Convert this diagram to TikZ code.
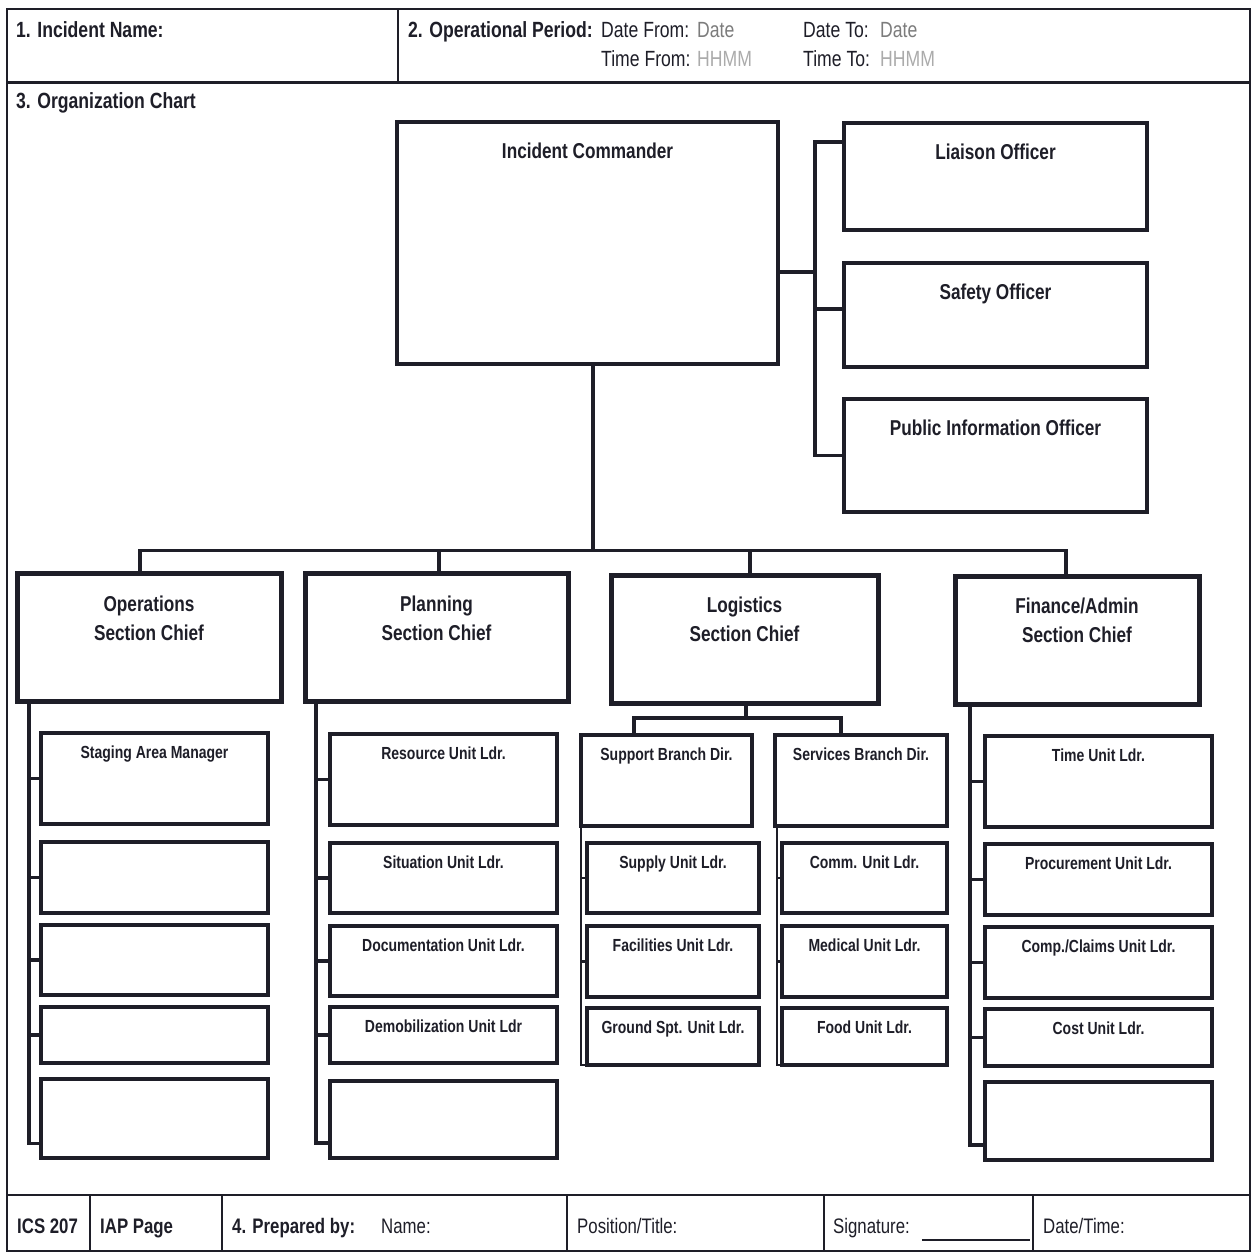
\documentclass[tikz,border=0pt]{standalone}
\usepackage{fontspec}
\usepackage{xcolor}
\usepackage{tikz}
\newfontfamily\formfont[FakeStretch=0.8]{Liberation Sans}

\definecolor{ink}{HTML}{1E1E28}
\definecolor{dategray}{HTML}{7C7C7C}
\definecolor{timegray}{HTML}{ABABAB}

\tikzset{
  chartbox/.style={rectangle, draw=ink, fill=white, inner sep=0pt, outer sep=0pt},
  officer/.style={chartbox, line width=4.5pt, minimum width=303pt},
  chief/.style={chartbox, line width=5pt, minimum height=128pt},
  unit/.style={chartbox, line width=3.5pt},
  tie/.style={draw=ink, line width=3.2pt},
  thintie/.style={draw=ink, line width=2.4pt},
  rule/.style={draw=ink, line width=2pt},
  bigtitle/.style={font=\formfont\bfseries\fontsize{21.5}{29}\selectfont, text=ink, inner sep=0pt, anchor=base, yshift=-36pt},
  chieftitle/.style={font=\formfont\bfseries\fontsize{21.5}{29}\selectfont, text=ink, inner sep=0pt, align=center, anchor=north, yshift=-22pt},
  unittitle/.style={font=\formfont\bfseries\fontsize{17.5}{20}\selectfont, text=ink, inner sep=0pt, anchor=base, yshift=-25pt},
  formbold/.style={font=\formfont\bfseries\fontsize{22}{26}\selectfont, text=ink, inner sep=0pt, anchor=base west},
  formtext/.style={font=\formfont\fontsize{22}{26}\selectfont, text=ink, inner sep=0pt, anchor=base west},
  footbold/.style={formbold, font=\formfont\bfseries\fontsize{21}{25}\selectfont},
  foottext/.style={formtext, font=\formfont\fontsize{21}{25}\selectfont},
}

\begin{document}
\begin{tikzpicture}[x=1pt, y=-1pt]
    \useasboundingbox (0,0) rectangle (1255,1254);
    \fill[white] (0,0) rectangle (1255,1254);

    % form frame
    \draw[rule] (7,9) rectangle (1250,1251);
    \draw[ink, line width=3pt] (7,82) -- (1250,82);
    \draw[rule] (398,9) -- (398,82);
    \draw[ink, line width=2.5pt] (7,1195) -- (1250,1195);
    \foreach \x in {90,222,567,824,1033}
        \draw[rule] (\x,1195) -- (\x,1251);

    % header
    \node[formbold] (incname) at (16,37) {1. Incident Name:};
    \node[formbold] (opperiod) at (408,37) {2. Operational Period:};
    \node[formtext] (datefrom) at (601,37) {Date From:};
    \node[formtext, text=dategray] (datefromval) at (697,37) {Date};
    \node[formtext] (dateto) at (803,37) {Date To:};
    \node[formtext, text=dategray] (datetoval) at (880,37) {Date};
    \node[formtext] (timefrom) at (601,66) {Time From:};
    \node[formtext, text=timegray] (timefromval) at (697,66) {HHMM};
    \node[formtext] (timeto) at (803,66) {Time To:};
    \node[formtext, text=timegray] (timetoval) at (880,66) {HHMM};
    \node[formbold] (orgchart) at (16,108) {3. Organization Chart};

    % command staff
    \node[chartbox, line width=4.5pt, minimum width=381pt, minimum height=242pt,
          label={[bigtitle]north:Incident Commander}] (ic) at (587.5,243) {};
    \node[officer, minimum height=107pt, label={[bigtitle]north:Liaison Officer}] (liaison) at (995.5,176.5) {};
    \node[officer, minimum height=104pt, label={[bigtitle]north:Safety Officer}] (safety) at (995.5,315) {};
    \node[officer, minimum height=113pt, label={[bigtitle]north:Public Information Officer}] (pio) at (995.5,455.5) {};

    % general staff
    \node[chief, minimum width=264pt, label={[chieftitle]north:Operations\\Section Chief}] (ops) at (149,637.5) {};
    \node[chief, minimum width=263pt, label={[chieftitle]north:Planning\\Section Chief}] (plan) at (436.5,637.5) {};
    \node[chief, minimum width=267pt, label={[chieftitle]north:Logistics\\Section Chief}] (log) at (744.5,639) {};
    \node[chief, minimum width=244pt, label={[chieftitle]north:Finance/Admin\\Section Chief}] (fin) at (1077,640) {};

    % units
    \foreach \i/\yc/\h/\txt in {1/778.5/91/Staging Area Manager, 2/877.5/71/, 3/960/70/, 4/1035/56/, 5/1118.5/79/}
        \node[unit, minimum width=227pt, minimum height=\h pt, label={[unittitle]north:\txt}] (ops\i) at (154.5,\yc) {};
    \foreach \i/\yc/\h/\txt in {1/779.5/91/Resource Unit Ldr., 2/878/70/Situation Unit Ldr., 3/961/70/Documentation Unit Ldr., 4/1035/56/Demobilization Unit Ldr, 5/1119.5/77/}
        \node[unit, minimum width=227pt, minimum height=\h pt, label={[unittitle]north:\txt}] (plan\i) at (443.5,\yc) {};
    \foreach \i/\yc/\h/\txt in {1/781.5/91/Time Unit Ldr., 2/879.5/71/Procurement Unit Ldr., 3/962.5/71/{Comp./Claims Unit Ldr.}, 4/1037.5/57/Cost Unit Ldr., 5/1121/78/}
        \node[unit, minimum width=227pt, minimum height=\h pt, label={[unittitle]north:\txt}] (fin\i) at (1098.5,\yc) {};

    \node[unit, minimum width=171pt, minimum height=91pt, label={[unittitle]north:Support Branch Dir.}] (supbr) at (666.5,780.5) {};
    \node[unit, minimum width=172pt, minimum height=91pt, label={[unittitle]north:Services Branch Dir.}] (serbr) at (861,780.5) {};
    \foreach \i/\yc/\h/\txt in {1/878/70/Supply Unit Ldr., 2/961.5/71/Facilities Unit Ldr., 3/1036.5/57/Ground Spt. Unit Ldr.}
        \node[unit, minimum width=172pt, minimum height=\h pt, label={[unittitle]north:\txt}] (sup\i) at (673,\yc) {};
    \foreach \i/\yc/\h/\txt in {1/878/70/Comm. Unit Ldr., 2/961.5/71/Medical Unit Ldr., 3/1036.5/57/Food Unit Ldr.}
        \node[unit, minimum width=165pt, minimum height=\h pt, label={[unittitle]north:\txt}] (ser\i) at (864.5,\yc) {};

    % ties: command staff
    \coordinate (staffbar) at (815,272);
    \coordinate (safetytie) at ([yshift=6pt]safety.west);
    \draw[tie] (ic.east |- staffbar) -- (staffbar);
    \draw[tie] ([yshift=-19pt]liaison.north west) -| (staffbar |- pio.west) -- (pio.west);
    \draw[tie] (safetytie) -- (safetytie -| staffbar);

    % ties: general staff
    \draw[tie] ([xshift=5.5pt]ic.south) -- ++(0,186);
    \draw[tie] ([xshift=-9pt]ops.north) -- ++(0,-23) -| ([xshift=-11pt]fin.north);
    \draw[tie] ([xshift=2.5pt]plan.north) -- ++(0,-23);
    \draw[tie] ([xshift=5.5pt]log.north) -- ++(0,-25);

    % ties: units
    \coordinate (opsline) at ([xshift=12pt]ops.south west);
    \draw[tie] (opsline) |- ([yshift=-25pt]ops5.west);
    \foreach \i in {1,...,4} \draw[tie] (ops\i.west) -- (ops\i.west -| opsline);

    \coordinate (planline) at ([xshift=11pt]plan.south west);
    \draw[tie] (planline) |- ([yshift=-23.5pt]plan5.west);
    \foreach \i in {1,...,4} \draw[tie] (plan\i.west) -- (plan\i.west -| planline);

    \coordinate (finline) at ([xshift=15pt]fin.south west);
    \draw[tie] (finline) |- ([yshift=-24pt]fin5.west);
    \foreach \i in {1,...,4} \draw[tie] (fin\i.west) -- (fin\i.west -| finline);

    \draw[tie] ([xshift=1.5pt]log.south) -- ++(0,15) coordinate (logbus);
    \draw[tie] ([xshift=-32.5pt]supbr.north) |- (logbus) -| ([xshift=-20pt]serbr.north);
    \draw[thintie] (supbr.south west) |- (sup3.south west);
    \foreach \i in {1,2} \draw[thintie] (sup\i.west) -- (sup\i.west -| supbr.south west);
    \coordinate (serline) at ([xshift=2pt]serbr.south west);
    \draw[thintie] (serline) |- (ser3.south west);
    \foreach \i in {1,2} \draw[thintie] (ser\i.west) -- (ser\i.west -| serline);

    % footer
    \node[footbold] (icsform) at (17,1233) {ICS 207};
    \node[footbold] (iappage) at (100,1233) {IAP Page};
    \node[footbold] (prepby) at (232,1233) {4. Prepared by:};
    \node[foottext] (prepname) at (381,1233) {Name:};
    \node[foottext] (preppos) at (577,1233) {Position/Title:};
    \node[foottext] (prepsig) at (833,1233) {Signature:};
    \node[foottext] (prepdate) at (1043,1233) {Date/Time:};
    \draw[ink, line width=1.5pt] ([xshift=12pt, yshift=-7pt]prepsig.base east) -- ++(108,0);
\end{tikzpicture}
\end{document}
